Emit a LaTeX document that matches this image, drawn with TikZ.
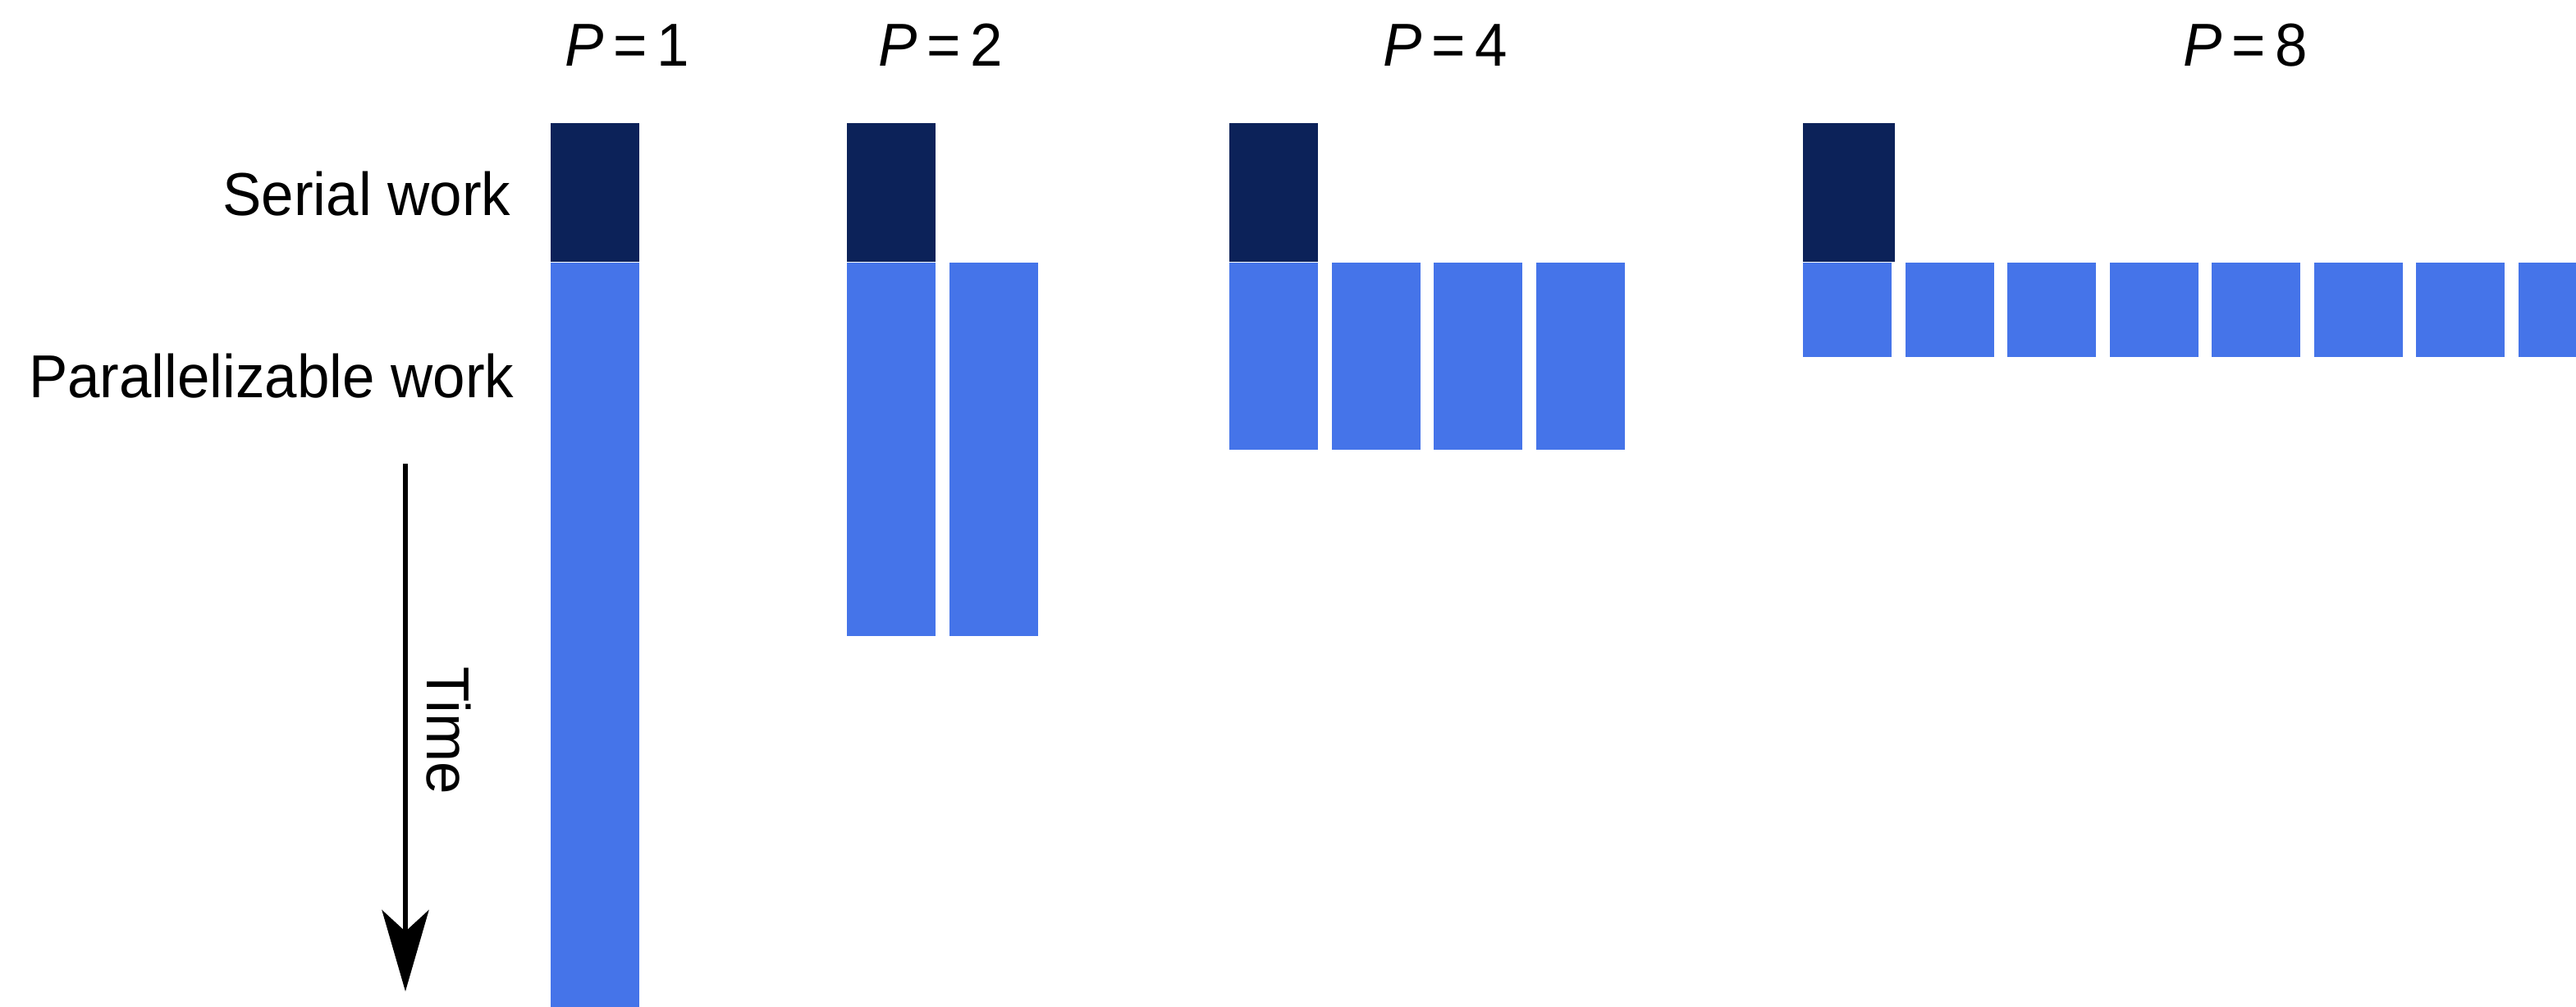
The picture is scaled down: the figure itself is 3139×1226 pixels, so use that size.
\documentclass[tikz,border=0pt]{standalone}
\usepackage{fontspec}
\setmainfont{Liberation Sans}
\usetikzlibrary{arrows.meta}
\definecolor{serialnavy}{RGB}{12,34,89}
\definecolor{parblue}{RGB}{69,116,233}
% slightly condensed label text
\newcommand{\narrowtxt}[1]{\scalebox{0.96}[1]{#1}}
\begin{document}
\begin{tikzpicture}[x=0.01cm, y=-0.01cm,
  block/.style={anchor=north west, inner sep=0pt, outer sep=0pt, minimum width=1.08cm},
  serialblock/.style={block, fill=serialnavy, minimum height=1.685cm},
  parblock/.style={block, fill=parblue},
  txt/.style={font=\fontsize{21}{25}\selectfont, inner sep=0pt},
  timearrow/.style={line width=0.067cm, -{Stealth[length=0.99cm, width=0.57cm, inset=0.26cm]}}]
\useasboundingbox (0,0) rectangle (3139,1226);
\clip (0,0) rectangle (3139,1226);

% processor-count headings
\node[txt, anchor=base] (h1) at (764,80)  {\narrowtxt{\textit{P}\,=\,1}};
\node[txt, anchor=base] (h2) at (1146,80) {\narrowtxt{\textit{P}\,=\,2}};
\node[txt, anchor=base] (h4) at (1761,80) {\narrowtxt{\textit{P}\,=\,4}};
\node[txt, anchor=base] (h8) at (2736,80) {\narrowtxt{\textit{P}\,=\,8}};

% row labels
\node[txt, anchor=base east] (lserial) at (623,262) {\narrowtxt{Serial work}};
\node[txt, anchor=base east] (lpar) at (627,484) {\narrowtxt{Parallelizable work}};

% P = 1
\node[serialblock] (s1) at (671,150) {};
\node[parblock, minimum height=9.1cm] (q1-0) at (671,320) {};

% P = 2
\node[serialblock] (s2) at (1032,150) {};
\foreach \i in {0,1}
  \node[parblock, minimum height=4.55cm] (q2-\i) at ({1032+125*\i},320) {};

% P = 4
\node[serialblock] (s4) at (1498,150) {};
\foreach \i in {0,...,3}
  \node[parblock, minimum height=2.275cm] (q4-\i) at ({1498+124.6*\i},320) {};

% P = 8
\node[serialblock, minimum width=1.12cm] (s8) at (2197,150) {};
\foreach \i in {0,...,7}
  \node[parblock, minimum height=1.15cm] (q8-\i) at ({2197+124.5*\i},320) {};

% time axis
\coordinate (tstart) at (494,565);
\coordinate (tend) at (494,1208);
\draw[timearrow] (tstart) -- (tend);
\node[txt, rotate=-90] (time) at (547,890) {\narrowtxt{Time}};
\end{tikzpicture}
\end{document}
